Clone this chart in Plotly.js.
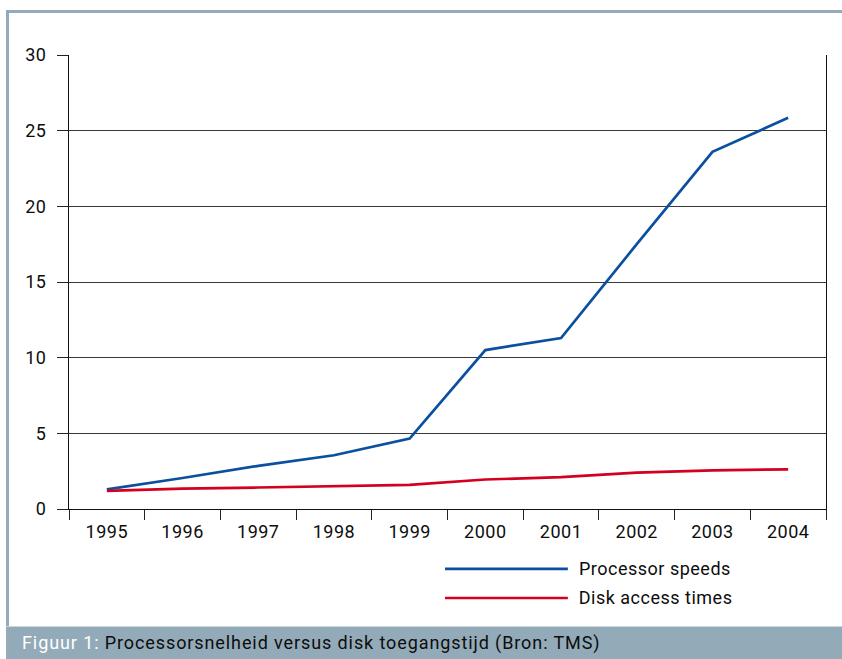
<!DOCTYPE html>
<html>
<head>
<meta charset="utf-8">
<script src="https://cdn.plot.ly/plotly-3.0.1.min.js"></script>
<style>
  html, body { margin: 0; padding: 0; background: #ffffff; }
  #wrap { position: relative; width: 842px; height: 659px; overflow: hidden; }
  #frame {
    position: absolute; left: 6px; top: 10px; width: 836px; height: 614px;
    border-left: 3px solid #94abbb; border-top: 3px solid #94abbb;
  }
  #caption {
    position: absolute; left: 6px; top: 626px; width: 836px; height: 33px;
    background: #93aab8; border-top: 1px solid #c9d6df;
    font-family: Roboto, "DejaVu Sans", sans-serif; font-size: 18px;
    line-height: 31px; color: #0d0d0d; box-sizing: border-box; padding-left: 16px;
    letter-spacing: 0.9px;
  }
  #caption .lbl { color: #ffffff; }
  #chart { position: absolute; left: 0; top: 0; width: 842px; height: 659px; }
  /* slightly wider tracking for all chart text */
  #chart svg text { letter-spacing: 0.5px; }
</style>
</head>
<body>
<div id="wrap">
  <div id="frame"></div>
  <div id="chart"></div>
  <div id="caption"><span class="lbl">Figuur 1:</span> Processorsnelheid versus disk toegangstijd (Bron: TMS)</div>
</div>
<script>
// Years on the category axis
const years = ['1995', '1996', '1997', '1998', '1999', '2000', '2001', '2002', '2003', '2004'];
// Relative processor speed per year
const processorSpeeds = [1.3, 2.05, 2.85, 3.55, 4.65, 10.5, 11.3, 17.5, 23.6, 25.85];
// Relative disk access time per year
const diskAccessTimes = [1.2, 1.35, 1.42, 1.5, 1.6, 1.95, 2.1, 2.4, 2.55, 2.62];
const seriesNames = ['Processor speeds', 'Disk access times'];
const seriesColors = ['#0b509f', '#d3001f'];
const yTicks = [0, 5, 10, 15, 20, 25, 30];

const FONT = 'Roboto, "DejaVu Sans", sans-serif';

const traces = [
  { x: years, y: processorSpeeds, name: seriesNames[0], type: 'scatter', mode: 'lines',
    line: { color: seriesColors[0], width: 2.7 }, showlegend: false, hoverinfo: 'skip' },
  { x: years, y: diskAccessTimes, name: seriesNames[1], type: 'scatter', mode: 'lines',
    line: { color: seriesColors[1], width: 2.7 }, showlegend: false, hoverinfo: 'skip' }
];

// Hand-placed legend below the plot: long line swatches with labels
const legendX0 = 0.4967, legendX1 = 0.659, legendTextX = 0.676;
const legendY = [-0.132, -0.196];
const shapes = [];
const annotations = [];
seriesNames.forEach((name, i) => {
  shapes.push({ type: 'line', xref: 'paper', yref: 'paper',
    x0: legendX0, x1: legendX1, y0: legendY[i], y1: legendY[i],
    line: { color: seriesColors[i], width: 2.7 } });
  annotations.push({ xref: 'paper', yref: 'paper', x: legendTextX, y: legendY[i],
    xanchor: 'left', yanchor: 'middle', showarrow: false, text: name,
    font: { family: FONT, size: 18, color: '#0d0d0d' } });
});

const layout = {
  width: 842, height: 659,
  margin: { l: 69, r: 16, t: 55, b: 150 },
  paper_bgcolor: 'rgba(0,0,0,0)',
  plot_bgcolor: 'rgba(0,0,0,0)',
  font: { family: FONT, size: 18, color: '#0d0d0d' },
  xaxis: {
    type: 'category', tickson: 'boundaries', ticks: 'outside', ticklen: 10,
    tickcolor: '#222222', tickwidth: 1,
    showline: true, linecolor: '#111111', linewidth: 1,
    showgrid: false, zeroline: false,
    ticklabelstandoff: 6,
    tickfont: { family: FONT, size: 18, color: '#0d0d0d' },
    range: [-0.5, 9.5], fixedrange: true
  },
  yaxis: {
    range: [0, 30], tickvals: yTicks, ticks: 'outside', ticklen: 11,
    tickcolor: '#222222', tickwidth: 1,
    showline: true, linecolor: '#111111', linewidth: 1, mirror: true,
    showgrid: true, gridcolor: '#3a3a3a', gridwidth: 1, zeroline: false,
    ticklabelstandoff: 7,
    tickfont: { family: FONT, size: 18, color: '#0d0d0d' },
    fixedrange: true
  },
  shapes: shapes,
  annotations: annotations
};

Plotly.newPlot('chart', traces, layout, { staticPlot: true, displayModeBar: false });
</script>
</body>
</html>
